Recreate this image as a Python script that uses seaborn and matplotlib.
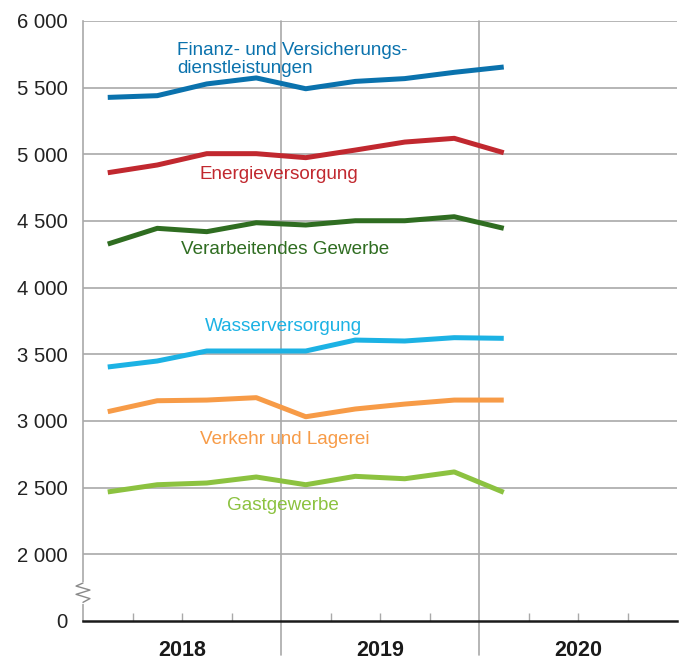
import matplotlib
matplotlib.use("Agg")
import matplotlib.pyplot as plt
from matplotlib.lines import Line2D
import numpy as np
import pandas as pd
import seaborn as sns

# Quarterly index, Q1 2018 .. Q1 2020
quarters = ["2018Q1", "2018Q2", "2018Q3", "2018Q4",
            "2019Q1", "2019Q2", "2019Q3", "2019Q4", "2020Q1"]

finanz = [5427, 5440, 5528, 5573, 5492, 5547, 5568, 5615, 5655]
energie = [4862, 4920, 5005, 5005, 4975, 5032, 5092, 5120, 5012]
verarbeitend = [4327, 4445, 4420, 4487, 4470, 4502, 4502, 4532, 4445]
wasser = [3405, 3450, 3525, 3525, 3525, 3607, 3600, 3625, 3620]
verkehr = [3070, 3152, 3157, 3175, 3032, 3090, 3127, 3157, 3157]
gast = [2468, 2522, 2535, 2580, 2522, 2585, 2567, 2618, 2465]

series_names = ["Finanz- und Versicherungs-\ndienstleistungen", "Energieversorgung",
                "Verarbeitendes Gewerbe", "Wasserversorgung",
                "Verkehr und Lagerei", "Gastgewerbe"]
series_values = [finanz, energie, verarbeitend, wasser, verkehr, gast]
colors = ["#0a72ad", "#c1282f", "#2f6d21", "#1cb2e4", "#f79b47", "#8cc240"]

years = ["2018", "2019", "2020"]
y_ticks = [0, 2000, 2500, 3000, 3500, 4000, 4500, 5000, 5500, 6000]

# label anchors (x in quarter units, y in value units)
label_pos = [(1.90, 5712), (2.36, 4852), (1.98, 4290),
             (2.46, 3712), (2.36, 2865), (2.91, 2370)]

# broken axis: the 0 tick sits one step below 2000
BREAK_BASE = 1500


def to_axis(v):
    return BREAK_BASE if v == 0 else v


rows = []
for name, vals in zip(series_names, series_values):
    for i, (q, v) in enumerate(zip(quarters, vals)):
        rows.append({"pos": i + 0.5, "quarter": q, "value": v, "branch": name})
df = pd.DataFrame(rows)

sns.set_theme(style="white")
plt.rcParams["font.family"] = ["Liberation Sans", "DejaVu Sans"]

fig = plt.figure(figsize=(6.84, 6.62), dpi=100)
ax = fig.add_axes([83 / 684, 41 / 662, 594 / 684, 600 / 662])

grid_col = "#a9a9a9"
for t in y_ticks[1:]:
    ax.axhline(t, color=grid_col, lw=1.2, zorder=1)

sns.lineplot(data=df, x="pos", y="value", hue="branch", hue_order=series_names,
             palette=colors, linewidth=3.6, legend=False, ax=ax, zorder=3,
             solid_capstyle="butt")

ax.set_xlim(0, 12)
ax.set_ylim(BREAK_BASE, 6000)

ax.set_yticks([to_axis(t) for t in y_ticks])
ax.set_yticklabels([f"{t:,}".replace(",", " ") for t in y_ticks],
                   fontsize=14.6, color="#222222")
ax.tick_params(axis="y", length=0, pad=11)

ax.set_xticks([1, 2, 3, 5, 6, 7, 9, 10, 11], minor=True)
ax.set_xticks([])
ax.tick_params(axis="x", which="minor", direction="in", length=6,
               width=1, color=grid_col, bottom=True)
ax.set_xlabel("")
ax.set_ylabel("")

for side in ["top", "right"]:
    ax.spines[side].set_visible(False)
ax.spines["bottom"].set_color("#1a1a1a")
ax.spines["bottom"].set_linewidth(1.8)
ax.spines["bottom"].set_zorder(5)
ax.spines["left"].set_color(grid_col)
ax.spines["left"].set_linewidth(1.2)

# year separators reaching into the label row
for xv in [4, 8]:
    ax.add_line(Line2D([xv, xv], [-0.057, 1.0], transform=ax.get_xaxis_transform(),
                       color=grid_col, lw=1.2, clip_on=False, zorder=2))

for i, yr in enumerate(years):
    ax.text(4 * i + 2, -0.05, yr, transform=ax.get_xaxis_transform(),
            ha="center", va="center", fontsize=15.5, fontweight="bold",
            color="#1a1a1a")

# axis break zigzag on the left spine
ax.add_line(Line2D([0, 0], [1645, 1780], color="white", lw=3, zorder=6,
                   clip_on=False))
zx = np.array([0, -0.14, 0.14, -0.14, 0.14, 0])
zy = np.array([1785, 1762, 1732, 1700, 1668, 1640])
ax.add_line(Line2D(zx, zy, color="#8a8a8a", lw=1.0, zorder=7, clip_on=False))

for name, col, (lx, ly) in zip(series_names, colors, label_pos):
    ax.text(lx, ly, name, color=col, fontsize=13.6, ha="left", va="center",
            linespacing=1.05, zorder=4)

fig.savefig("out.png", dpi=100)
